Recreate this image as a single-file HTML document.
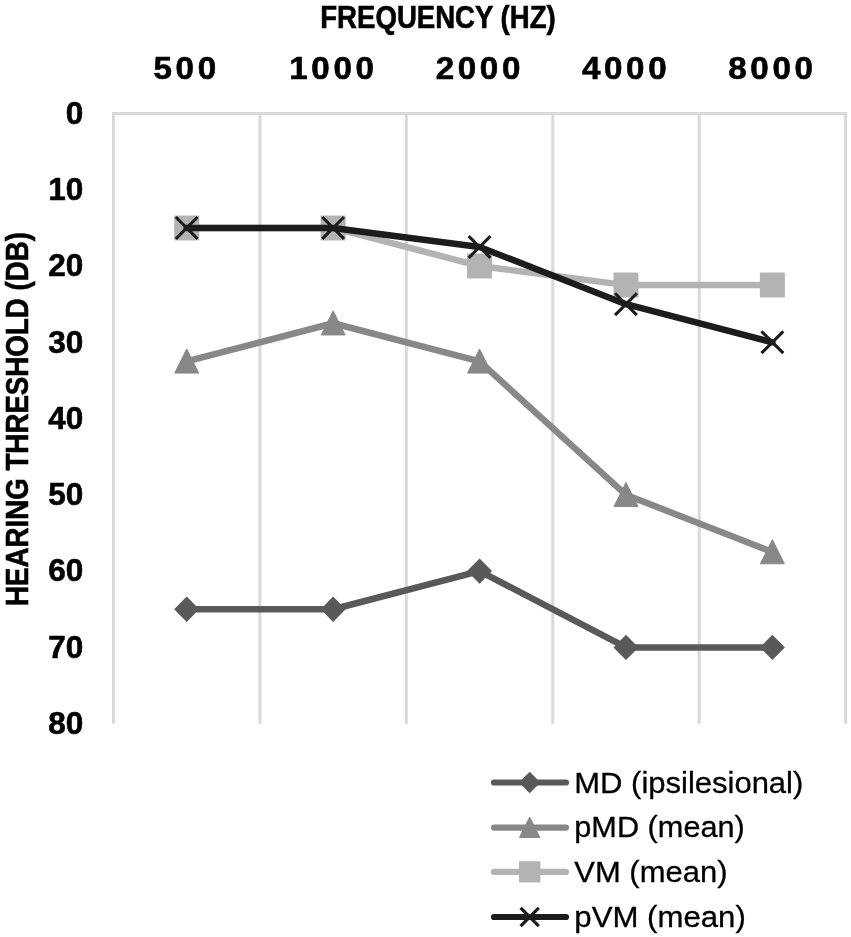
<!DOCTYPE html>
<html><head><meta charset="utf-8"><style>
html,body{margin:0;padding:0;background:#fff;}
svg{display:block;will-change:transform;}
</style></head><body>
<svg width="851" height="937" viewBox="0 0 851 937">
<rect width="851" height="937" fill="#fff"/>
<line x1="112" y1="113.5" x2="847" y2="113.5" stroke="#d9d9d9" stroke-width="3"/>
<line x1="113.50" y1="112" x2="113.50" y2="723.7" stroke="#d9d9d9" stroke-width="3"/>
<line x1="259.92" y1="112" x2="259.92" y2="723.7" stroke="#d9d9d9" stroke-width="3"/>
<line x1="406.34" y1="112" x2="406.34" y2="723.7" stroke="#d9d9d9" stroke-width="3"/>
<line x1="552.76" y1="112" x2="552.76" y2="723.7" stroke="#d9d9d9" stroke-width="3"/>
<line x1="699.18" y1="112" x2="699.18" y2="723.7" stroke="#d9d9d9" stroke-width="3"/>
<line x1="845.60" y1="112" x2="845.60" y2="723.7" stroke="#d9d9d9" stroke-width="3"/>
<polyline points="186.71,609.25 333.13,609.25 479.55,571.12 625.97,647.39 772.39,647.39" fill="none" stroke="#595959" stroke-width="6.5" stroke-linejoin="round" stroke-linecap="round"/>
<polygon points="186.71,596.55 199.21,609.25 186.71,621.96 174.21,609.25" fill="#595959"/>
<polygon points="333.13,596.55 345.63,609.25 333.13,621.96 320.63,609.25" fill="#595959"/>
<polygon points="479.55,558.42 492.05,571.12 479.55,583.82 467.05,571.12" fill="#595959"/>
<polygon points="625.97,634.69 638.47,647.39 625.97,660.09 613.47,647.39" fill="#595959"/>
<polygon points="772.39,634.69 784.89,647.39 772.39,660.09 759.89,647.39" fill="#595959"/>
<polyline points="186.71,361.38 333.13,323.24 479.55,361.38 625.97,494.85 772.39,552.05" fill="none" stroke="#888888" stroke-width="6.5" stroke-linejoin="round" stroke-linecap="round"/>
<polygon points="186.71,348.98 198.71,373.08 174.71,373.08" fill="#888888" stroke="#888888" stroke-width="1" stroke-linejoin="round"/>
<polygon points="333.13,310.84 345.13,334.94 321.13,334.94" fill="#888888" stroke="#888888" stroke-width="1" stroke-linejoin="round"/>
<polygon points="479.55,348.98 491.55,373.08 467.55,373.08" fill="#888888" stroke="#888888" stroke-width="1" stroke-linejoin="round"/>
<polygon points="625.97,482.45 637.97,506.55 613.97,506.55" fill="#888888" stroke="#888888" stroke-width="1" stroke-linejoin="round"/>
<polygon points="772.39,539.65 784.39,563.75 760.39,563.75" fill="#888888" stroke="#888888" stroke-width="1" stroke-linejoin="round"/>
<polyline points="186.71,227.91 333.13,227.91 479.55,266.04 625.97,285.11 772.39,285.11" fill="none" stroke="#b3b3b3" stroke-width="6.5" stroke-linejoin="round" stroke-linecap="round"/>
<rect x="174.21" y="215.41" width="25.00" height="25.00" rx="0.8" fill="#b3b3b3"/>
<rect x="320.63" y="215.41" width="25.00" height="25.00" rx="0.8" fill="#b3b3b3"/>
<rect x="467.05" y="253.54" width="25.00" height="25.00" rx="0.8" fill="#b3b3b3"/>
<rect x="613.47" y="272.61" width="25.00" height="25.00" rx="0.8" fill="#b3b3b3"/>
<rect x="759.89" y="272.61" width="25.00" height="25.00" rx="0.8" fill="#b3b3b3"/>
<polyline points="186.71,227.91 333.13,227.91 479.55,246.97 625.97,304.17 772.39,342.31" fill="none" stroke="#1c1c1c" stroke-width="6.5" stroke-linejoin="round" stroke-linecap="round"/>
<path d="M175.81,217.00L197.61,238.81M197.61,217.00L175.81,238.81" stroke="#1c1c1c" stroke-width="3.1" fill="none"/>
<path d="M322.23,217.00L344.03,238.81M344.03,217.00L322.23,238.81" stroke="#1c1c1c" stroke-width="3.1" fill="none"/>
<path d="M468.65,236.07L490.45,257.87M490.45,236.07L468.65,257.87" stroke="#1c1c1c" stroke-width="3.1" fill="none"/>
<path d="M615.07,293.27L636.87,315.07M636.87,293.27L615.07,315.07" stroke="#1c1c1c" stroke-width="3.1" fill="none"/>
<path d="M761.49,331.41L783.29,353.21M783.29,331.41L761.49,353.21" stroke="#1c1c1c" stroke-width="3.1" fill="none"/>
<line x1="494" y1="782.5" x2="566" y2="782.5" stroke="#595959" stroke-width="6.2" stroke-linecap="round"/>
<polygon points="529.70,771.80 540.40,782.50 529.70,793.20 519.00,782.50" fill="#595959"/>
<line x1="494" y1="827.6" x2="566" y2="827.6" stroke="#888888" stroke-width="6.2" stroke-linecap="round"/>
<polygon points="529.70,817.10 539.95,837.50 519.45,837.50" fill="#888888" stroke="#888888" stroke-width="1" stroke-linejoin="round"/>
<line x1="494" y1="871.9" x2="566" y2="871.9" stroke="#b3b3b3" stroke-width="6.2" stroke-linecap="round"/>
<rect x="519.00" y="861.20" width="21.40" height="21.40" rx="0.8" fill="#b3b3b3"/>
<line x1="494" y1="917.0" x2="566" y2="917.0" stroke="#1c1c1c" stroke-width="6.2" stroke-linecap="round"/>
<path d="M520.60,907.90L538.80,926.10M538.80,907.90L520.60,926.10" stroke="#1c1c1c" stroke-width="3.3" fill="none"/>
<text x="438" y="27.6" font-family="&#39;Liberation Sans&#39;, sans-serif" stroke="#000" stroke-width="0.6" font-weight="bold" font-size="31" text-anchor="middle" textLength="235.5" lengthAdjust="spacingAndGlyphs">FREQUENCY (HZ)</text>
<text transform="translate(186.60,79.4) scale(1.07,1)" x="0" y="0" font-family="&#39;Liberation Sans&#39;, sans-serif" stroke="#000" stroke-width="0.6" font-weight="bold" font-size="31" text-anchor="middle" letter-spacing="3.4">500</text>
<text transform="translate(333.40,79.4) scale(1.07,1)" x="0" y="0" font-family="&#39;Liberation Sans&#39;, sans-serif" stroke="#000" stroke-width="0.6" font-weight="bold" font-size="31" text-anchor="middle" letter-spacing="3.4">1000</text>
<text transform="translate(479.80,79.4) scale(1.07,1)" x="0" y="0" font-family="&#39;Liberation Sans&#39;, sans-serif" stroke="#000" stroke-width="0.6" font-weight="bold" font-size="31" text-anchor="middle" letter-spacing="3.4">2000</text>
<text transform="translate(626.10,79.4) scale(1.07,1)" x="0" y="0" font-family="&#39;Liberation Sans&#39;, sans-serif" stroke="#000" stroke-width="0.6" font-weight="bold" font-size="31" text-anchor="middle" letter-spacing="3.4">4000</text>
<text transform="translate(772.40,79.4) scale(1.07,1)" x="0" y="0" font-family="&#39;Liberation Sans&#39;, sans-serif" stroke="#000" stroke-width="0.6" font-weight="bold" font-size="31" text-anchor="middle" letter-spacing="3.4">8000</text>
<text x="83.2" y="123.70" font-family="&#39;Liberation Sans&#39;, sans-serif" stroke="#000" stroke-width="0.6" font-weight="bold" font-size="31.5" text-anchor="end">0</text>
<text x="83.2" y="199.97" font-family="&#39;Liberation Sans&#39;, sans-serif" stroke="#000" stroke-width="0.6" font-weight="bold" font-size="31.5" text-anchor="end">10</text>
<text x="83.2" y="276.24" font-family="&#39;Liberation Sans&#39;, sans-serif" stroke="#000" stroke-width="0.6" font-weight="bold" font-size="31.5" text-anchor="end">20</text>
<text x="83.2" y="352.51" font-family="&#39;Liberation Sans&#39;, sans-serif" stroke="#000" stroke-width="0.6" font-weight="bold" font-size="31.5" text-anchor="end">30</text>
<text x="83.2" y="428.78" font-family="&#39;Liberation Sans&#39;, sans-serif" stroke="#000" stroke-width="0.6" font-weight="bold" font-size="31.5" text-anchor="end">40</text>
<text x="83.2" y="505.05" font-family="&#39;Liberation Sans&#39;, sans-serif" stroke="#000" stroke-width="0.6" font-weight="bold" font-size="31.5" text-anchor="end">50</text>
<text x="83.2" y="581.32" font-family="&#39;Liberation Sans&#39;, sans-serif" stroke="#000" stroke-width="0.6" font-weight="bold" font-size="31.5" text-anchor="end">60</text>
<text x="83.2" y="657.59" font-family="&#39;Liberation Sans&#39;, sans-serif" stroke="#000" stroke-width="0.6" font-weight="bold" font-size="31.5" text-anchor="end">70</text>
<text x="83.2" y="733.86" font-family="&#39;Liberation Sans&#39;, sans-serif" stroke="#000" stroke-width="0.6" font-weight="bold" font-size="31.5" text-anchor="end">80</text>
<text transform="translate(27.5,419.0) rotate(-90)" x="0" y="0" font-family="&#39;Liberation Sans&#39;, sans-serif" stroke="#000" stroke-width="0.6" font-weight="bold" font-size="31" text-anchor="middle" textLength="374" lengthAdjust="spacingAndGlyphs">HEARING THRESHOLD (DB)</text>
<text x="574.3" y="792.90" font-family="&#39;Liberation Sans&#39;, sans-serif" stroke="#000" stroke-width="0.3" font-size="30" fill="#000" textLength="229" lengthAdjust="spacingAndGlyphs">MD (ipsilesional)</text>
<text x="574.3" y="837.30" font-family="&#39;Liberation Sans&#39;, sans-serif" stroke="#000" stroke-width="0.3" font-size="30" fill="#000" textLength="170.5" lengthAdjust="spacingAndGlyphs">pMD (mean)</text>
<text x="574.3" y="881.90" font-family="&#39;Liberation Sans&#39;, sans-serif" stroke="#000" stroke-width="0.3" font-size="30" fill="#000" textLength="153.2" lengthAdjust="spacingAndGlyphs">VM (mean)</text>
<text x="574.3" y="926.80" font-family="&#39;Liberation Sans&#39;, sans-serif" stroke="#000" stroke-width="0.3" font-size="30" fill="#000" textLength="171.5" lengthAdjust="spacingAndGlyphs">pVM (mean)</text>
</svg>
</body></html>
